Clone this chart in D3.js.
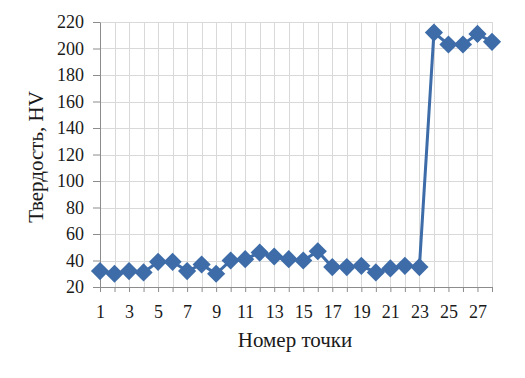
<!DOCTYPE html>
<html>
<head>
<meta charset="utf-8">
<style>
body { margin: 0; background: #fff; }
text { font-family: "Liberation Serif", "Times New Roman", serif; fill: #1a1a1a; }
.grid line { stroke: #d9d9d9; stroke-width: 1px; }
.axis path, .axis line { stroke: #8c8c8c; stroke-width: 1px; }
</style>
</head>
<body>
<svg id="chart" width="525" height="378"></svg>
<script src="https://cdn.jsdelivr.net/npm/d3@7"></script>
<script>
// номер точки и твердость
var points = d3.range(1, 29);
var hardness = [32, 30, 32, 31, 39, 39, 32, 37, 30, 40, 41, 46, 43, 41, 40, 47,
                35, 35, 36, 31, 34, 36, 35, 212, 203, 203, 211, 205];
var yTicks = [20, 40, 60, 80, 100, 120, 140, 160, 180, 200, 220];
var xLabels = [1, 3, 5, 7, 9, 11, 13, 15, 17, 19, 21, 23, 25, 27];

var svg = d3.select("#chart");
var margin = {top: 22, right: 33, bottom: 91, left: 100},
    width = 525 - margin.left - margin.right,
    height = 378 - margin.top - margin.bottom;

var x = d3.scaleLinear().domain([1, 28]).range([0, width]);
var y = d3.scaleLinear().domain([20, 220]).range([height, 0]);

var g = svg.append("g")
    .attr("transform", "translate(" + margin.left + "," + margin.top + ")");

// gridlines
g.append("g").attr("class", "grid")
  .selectAll("line").data(yTicks.slice(1)).enter().append("line")
    .attr("x1", 0).attr("x2", width)
    .attr("y1", function(d) { return Math.round(y(d)) + 0.5; })
    .attr("y2", function(d) { return Math.round(y(d)) + 0.5; });
g.append("g").attr("class", "grid")
  .selectAll("line").data(points.slice(1)).enter().append("line")
    .attr("y1", 0).attr("y2", height)
    .attr("x1", function(d) { return Math.round(x(d)) + 0.5; })
    .attr("x2", function(d) { return Math.round(x(d)) + 0.5; });

// axes
var yAxis = g.append("g").attr("class", "axis")
    .call(d3.axisLeft(y).tickValues(yTicks).tickSize(7).tickPadding(9).tickSizeOuter(0));
yAxis.attr("font-family", null).attr("font-size", null);
yAxis.selectAll("text").style("font-size", "18px");

var xAxis = g.append("g").attr("class", "axis")
    .attr("transform", "translate(0," + height + ")")
    .call(d3.axisBottom(x).tickValues(points).tickSize(5).tickPadding(13).tickSizeOuter(0)
      .tickFormat(function(d) { return xLabels.indexOf(d) >= 0 ? d : ""; }));
xAxis.attr("font-family", null).attr("font-size", null);
xAxis.selectAll("text").style("font-size", "18px");

// line
var line = d3.line()
    .x(function(d, i) { return x(points[i]); })
    .y(function(d) { return y(d); });

g.append("path")
    .datum(hardness)
    .attr("fill", "none")
    .attr("stroke", "#3d6ca8")
    .attr("stroke-width", 3)
    .attr("d", line);

// diamond markers (rotated squares)
var sym = d3.symbol().type(d3.symbolSquare).size(165);
g.selectAll(".pt").data(hardness).enter().append("path")
    .attr("class", "pt")
    .attr("d", sym)
    .attr("fill", "#3d6ca8")
    .attr("transform", function(d, i) {
      return "translate(" + x(points[i]) + "," + y(d) + ") rotate(45)"; });

// titles
svg.append("text")
    .attr("x", 295).attr("y", 347)
    .attr("text-anchor", "middle")
    .style("font-size", "21px")
    .text("Номер точки");

svg.append("text")
    .attr("transform", "translate(43,157) rotate(-90)")
    .attr("text-anchor", "middle")
    .style("font-size", "21px")
    .text("Твердость, HV");
</script>
</body>
</html>
